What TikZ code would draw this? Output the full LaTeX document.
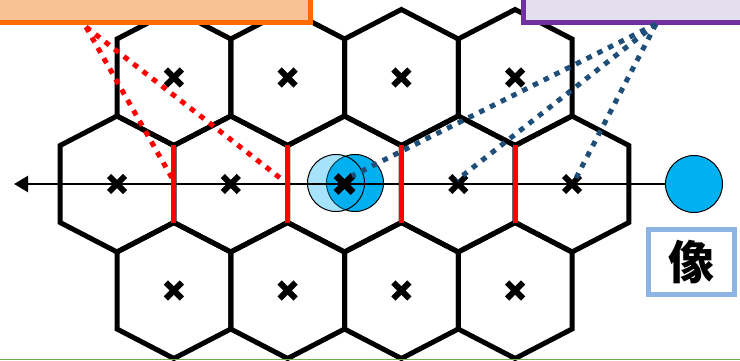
\documentclass[tikz,border=0pt]{standalone}
\usepackage{fontspec}
\newfontfamily\cjk{Noto Sans CJK JP}
\usetikzlibrary{arrows.meta}
\definecolor{orgfill}{HTML}{F8C193}
\definecolor{orgline}{HTML}{FF6A00}
\definecolor{purfill}{HTML}{E4DFEC}
\definecolor{purline}{HTML}{7030A0}
\definecolor{cyanfill}{HTML}{00B0F0}
\definecolor{dotblue}{HTML}{1F4E79}
\definecolor{boxblue}{HTML}{8EB4E3}
\definecolor{slidegreen}{HTML}{70AD47}
\begin{document}
\begin{tikzpicture}[x=1pt,y=-1pt,
  hexline/.style={line width=5pt, line join=miter, draw=black},
  rededge/.style={line width=5pt, draw=red},
  xmark/.style={line width=6pt, line cap=butt, draw=black},
  axisline/.style={line width=2.5pt, draw=black, -{Triangle[length=14pt,width=16pt]}},
  reddot/.style={line width=5pt, draw=red, dash pattern=on 5.5pt off 6.5pt},
  bluedot/.style={line width=5pt, draw=dotblue, dash pattern=on 5.5pt off 6.5pt},
  topbox/.style={line width=5pt, inner sep=0pt},
  ball/.style={circle, draw=black, line width=1pt, fill=cyanfill, inner sep=0pt, minimum size=57pt}
]
\useasboundingbox (0,0) rectangle (740,361);
% hex centres
\coordinate (t1) at (173.875,77.5);
\coordinate (t2) at (287.625,77.5);
\coordinate (t3) at (401.375,77.5);
\coordinate (t4) at (515.125,77.5);
\coordinate (m1) at (117,184);
\coordinate (m2) at (230.75,184);
\coordinate (m3) at (344.5,184);
\coordinate (m4) at (458.25,184);
\coordinate (m5) at (572,184);
\coordinate (b1) at (173.875,290.5);
\coordinate (b2) at (287.625,290.5);
\coordinate (b3) at (401.375,290.5);
\coordinate (b4) at (515.125,290.5);
% hexagons
\foreach \h in {t1,t2,t3,t4,m1,m2,m3,m4,m5,b1,b2,b3,b4}
  \draw[hexline, shift={(\h)}] (0,-68) -- (56.875,-38.5) -- (56.875,38.5) -- (0,68)
        -- (-56.875,38.5) -- (-56.875,-38.5) -- cycle;
% circles
\node[ball] (c2) at (355,183) {};
\node[ball, fill opacity=0.35] (c1) at (336,183) {};
\node[ball] (img) at (694,184) {};
% axis
\coordinate (aend) at (14,184);
\draw[axisline] (img.west) -- (aend);
% red edges
\draw[rededge] (173.875,145.5) -- (173.875,222.5);
\draw[rededge] (287.625,145.5) -- (287.625,222.5);
\draw[rededge] (401.375,145.5) -- (401.375,222.5);
\draw[rededge] (515.125,145.5) -- (515.125,222.5);
% crosses
\foreach \h in {t1,t2,t3,t4,m1,m2,m4,m5,b1,b2,b3,b4}
  \draw[xmark] (\h) ++(-8,-8) -- ++(16,16) (\h) ++(-8,8) -- ++(16,-16);
\draw[xmark, line width=7pt] (m3) ++(-8.5,-8.5) -- ++(17,17) (m3) ++(-8.5,8.5) -- ++(17,-17);
% boxes
\node[topbox, draw=orgline, fill=orgfill, minimum width=330pt, minimum height=53pt] (obox) at (145,-3.5) {};
\node[topbox, draw=purline, fill=purfill, minimum width=237pt, minimum height=52.5pt] (pbox) at (641.5,-3.75) {};
\node[line width=5pt, draw=boxblue, fill=white, minimum width=86pt, minimum height=65pt, inner sep=0pt,
      font=\cjk\bfseries\fontsize{46}{46}\selectfont] (lab) at (691.5,262) {像};
% dotted connectors
\coordinate (rs) at (86,27);
\coordinate (re1) at (172,178);
\coordinate (re2) at (284,181);
\draw[reddot] (rs) -- (re1);
\draw[reddot] (rs) -- (re2);
\coordinate (bs) at (656,24);
\coordinate (be1) at (352,176);
\coordinate (be2) at (457,180);
\coordinate (be3) at (575,180);
\draw[bluedot] (bs) -- (be1);
\draw[bluedot] (bs) -- (be2);
\draw[bluedot] (bs) -- (be3);
% slide edge
\draw[slidegreen, line width=1.5pt] (0,359.5) -- (740,359.5);
\end{tikzpicture}
\end{document}
